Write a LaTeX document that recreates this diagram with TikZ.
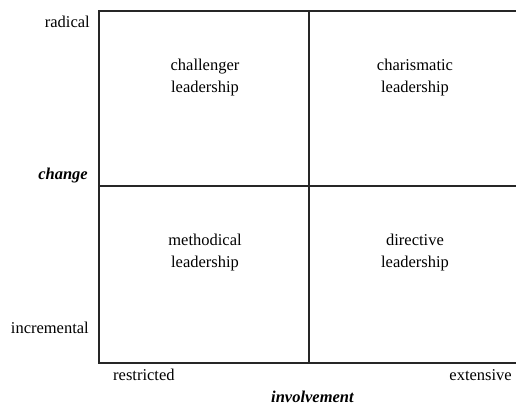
\documentclass[tikz,border=0pt]{standalone}
\usepackage{fontspec}
\setmainfont{Liberation Serif}
\begin{document}
\begin{tikzpicture}[x=1pt,y=-1pt,
  lbl/.style={inner sep=0pt,font=\rmfamily\fontsize{16.5}{20}\selectfont},
  axis/.style={inner sep=0pt,font=\rmfamily\fontsize{16.5}{20}\selectfont\bfseries\itshape},
  cell/.style={inner sep=0pt,align=center,font=\rmfamily\fontsize{16.5}{22}\selectfont},
  grid/.style={line width=1.3pt,black!85}]
\useasboundingbox (0,0) rectangle (516,405);
% matrix frame (open on the right)
\coordinate (tl) at (99,11);
\coordinate (tr) at (516,11);
\coordinate (ml) at (99,186);
\coordinate (mr) at (516,186);
\coordinate (bl) at (99,363);
\coordinate (br) at (516,363);
\coordinate (vt) at (309,11);
\coordinate (vb) at (309,363);
\draw[grid] (tr) -- (tl) -- (bl) -- (br);
\draw[grid] (ml) -- (mr);
\draw[grid] (vt) -- (vb);
% quadrant labels
\node[cell] (q1) at (205,78) {challenger\\leadership};
\node[cell] (q2) at (415,78) {charismatic\\leadership};
\node[cell] (q3) at (205,253) {methodical\\leadership};
\node[cell] (q4) at (415,253) {directive\\leadership};
% vertical axis
\node[lbl,anchor=east] (rad) at (90,22) {radical};
\node[axis,anchor=east] (chg) at (88,176) {change};
\node[lbl,anchor=east] (inc) at (89,328) {incremental};
% horizontal axis
\node[lbl,anchor=west] (res) at (113,375) {restricted};
\node[lbl,anchor=east] (ext) at (512,375) {extensive};
\node[axis,anchor=west] (inv) at (271,397) {involvement};
\end{tikzpicture}
\end{document}
